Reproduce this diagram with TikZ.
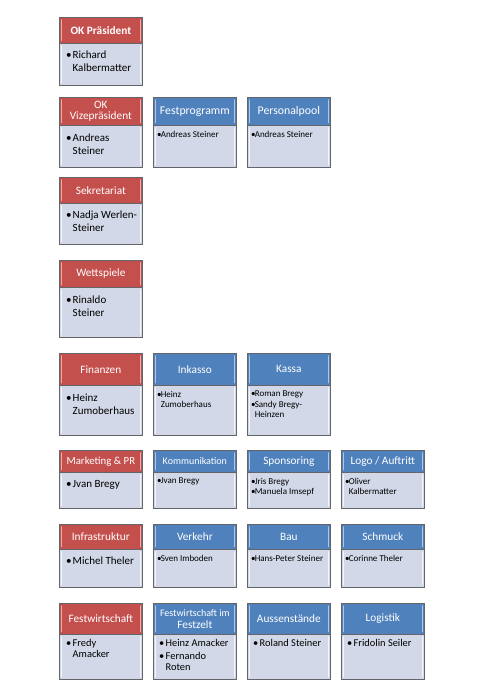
\documentclass[tikz,border=0pt]{standalone}
\usepackage{fontspec}
\setmainfont{Carlito}
\definecolor{hred}{RGB}{196,80,77}
\definecolor{hblue}{RGB}{79,129,189}
\definecolor{bfill}{RGB}{210,216,231}
\definecolor{edgegray}{RGB}{100,100,105}
\newcommand\bulA{\makebox[6.5pt][l]{•}}
\newcommand\indA{\hspace*{6.5pt}}
\newcommand\bulB{\makebox[3.6pt][l]{•}}
\newcommand\indB{\hspace*{3.6pt}}
\tikzset{
  headbox/.style={draw=edgegray, line width=0.7pt, minimum width=83pt, inner sep=0pt,
    text=white, align=center, anchor=north west, font=\fontsize{11.3}{11.5}\selectfont},
  bodybox/.style={draw=edgegray, line width=0.7pt, fill=bfill, minimum width=83pt,
    inner sep=0pt, anchor=north west},
  txtA/.style={anchor=north west, inner sep=0pt, align=left, font=\fontsize{11}{12.5}\selectfont},
  txtC/.style={anchor=north west, inner sep=0pt, align=left, font=\fontsize{10.4}{11.5}\selectfont},
  txtB/.style={anchor=north west, inner sep=0pt, align=left, font=\fontsize{9}{10.5}\selectfont},
  bevel/.style={line width=1.2pt, line cap=round},
}
\newcommand\orgbox[7]{%
  \node[headbox, fill=#6, minimum height={#4-#3}] (#1h) at (#2,-#3) {#7};
  \node[bodybox, minimum height={#5-#4}] (#1b) at (#2,-#4) {};
  \draw[bevel, #6!45!white] ([xshift=2.5pt,yshift=-3pt]#1h.north west) -- ([xshift=2.5pt,yshift=3pt]#1h.south west);
  \draw[bevel, #6!45!white] ([xshift=-2.5pt,yshift=-3pt]#1h.north east) -- ([xshift=-2.5pt,yshift=3pt]#1h.south east);
  \draw[bevel, white, opacity=.75] ([xshift=2.5pt,yshift=-3pt]#1b.north west) -- ([xshift=2.5pt,yshift=3pt]#1b.south west);
  \draw[bevel, white, opacity=.75] ([xshift=-2.5pt,yshift=-3pt]#1b.north east) -- ([xshift=-2.5pt,yshift=3pt]#1b.south east);
}
\begin{document}
\begin{tikzpicture}[x=1pt,y=1pt]
\useasboundingbox[fill=white] (0,0) rectangle (490,-693);

% Row 1
\orgbox{p1}{59}{17}{43}{85}{hred}{\textbf{OK Präsident}}
\node[txtA] (p1t) at ([xshift=7pt,yshift=-8pt]p1b.north west) {\bulA Richard\\\indA Kalbermatter};

% Row 2
\orgbox{v1}{59}{97}{125}{167}{hred}{OK\\Vizepräsident}
\node[txtA] (v1t) at ([xshift=7pt,yshift=-9pt]v1b.north west) {\bulA Andreas\\\indA Steiner};
\orgbox{fp}{153}{97}{125}{167}{hblue}{\fontsize{11.8}{12}\selectfont Festprogramm}
\node[txtB] (fpt) at ([xshift=4pt,yshift=-6pt]fpb.north west) {\bulB Andreas Steiner};
\orgbox{pp}{247}{97}{125}{167}{hblue}{\fontsize{11.8}{12}\selectfont Personalpool}
\node[txtB] (ppt) at ([xshift=4pt,yshift=-6pt]ppb.north west) {\bulB Andreas Steiner};

% Row 3
\orgbox{sk}{59}{177}{203}{244}{hred}{Sekretariat}
\node[txtA] (skt) at ([xshift=7pt,yshift=-8pt]skb.north west) {\bulA Nadja Werlen-\\\indA Steiner};

% Row 4
\orgbox{ws}{59}{260}{287}{337}{hred}{Wettspiele}
\node[txtA] (wst) at ([xshift=7pt,yshift=-9pt]wsb.north west) {\bulA Rinaldo\\\indA Steiner};

% Row 5
\orgbox{fi}{59}{353}{385}{435}{hred}{Finanzen}
\node[txtA] (fit) at ([xshift=7pt,yshift=-9pt]fib.north west) {\bulA Heinz\\\indA Zumoberhaus};
\orgbox{ik}{153}{353}{385}{435}{hblue}{Inkasso}
\node[txtB] (ikt) at ([xshift=4pt,yshift=-6pt]ikb.north west) {\bulB Heinz\\\indB Zumoberhaus};
\orgbox{ka}{247}{353}{385}{435}{hblue}{Kassa}
\node[txtB] (kat) at ([xshift=4pt,yshift=-6pt]kab.north west) {\bulB Roman Bregy\\\bulB Sandy Bregy-\\\indB Heinzen};

% Row 6
\orgbox{mk}{59}{450}{472}{508}{hred}{\fontsize{10.8}{11}\selectfont Marketing \& PR}
\node[txtA] (mkt) at ([xshift=7pt,yshift=-8pt]mkb.north west) {\bulA Jvan Bregy};
\orgbox{ko}{153}{450}{472}{508}{hblue}{\fontsize{10}{11}\selectfont Kommunikation}
\node[txtB] (kot) at ([xshift=4pt,yshift=-6pt]kob.north west) {\bulB Jvan Bregy};
\orgbox{sp}{247}{450}{472}{508}{hblue}{Sponsoring}
\node[txtB] (spt) at ([xshift=4pt,yshift=-6pt]spb.north west) {\bulB Jris Bregy\\\bulB Manuela Imsepf};
\orgbox{lo}{341}{450}{472}{508}{hblue}{Logo / Auftritt}
\node[txtB] (lot) at ([xshift=4pt,yshift=-6pt]lob.north west) {\bulB Oliver\\\indB Kalbermatter};

% Row 7
\orgbox{in}{59}{524}{549}{587}{hred}{Infrastruktur}
\node[txtA] (int) at ([xshift=7pt,yshift=-8pt]inb.north west) {\bulA Michel Theler};
\orgbox{ve}{153}{524}{549}{587}{hblue}{Verkehr}
\node[txtB] (vet) at ([xshift=4pt,yshift=-6pt]veb.north west) {\bulB Sven Imboden};
\orgbox{ba}{247}{524}{549}{587}{hblue}{Bau}
\node[txtB] (bat) at ([xshift=4pt,yshift=-6pt]bab.north west) {\bulB Hans-Peter Steiner};
\orgbox{sc}{341}{524}{549}{587}{hblue}{Schmuck}
\node[txtB] (sct) at ([xshift=4pt,yshift=-6pt]scb.north west) {\bulB Corinne Theler};

% Row 8
\orgbox{fw}{59}{603}{634}{679}{hred}{Festwirtschaft}
\node[txtC] (fwt) at ([xshift=7pt,yshift=-5pt]fwb.north west) {\bulA Fredy\\\indA Amacker};
\orgbox{fz}{153}{603}{634}{679}{hblue}{\fontsize{10}{11}\selectfont Festwirtschaft im\\Festzelt}
\node[txtC] (fzt) at ([xshift=6pt,yshift=-5pt]fzb.north west) {\bulA Heinz Amacker\\[1.5pt]\bulA Fernando\\\indA Roten};
\orgbox{au}{247}{603}{634}{679}{hblue}{Aussenstände}
\node[txtC] (aut) at ([xshift=6pt,yshift=-5pt]aub.north west) {\bulA Roland Steiner};
\orgbox{lg}{341}{603}{634}{679}{hblue}{Logistik}
\node[txtC] (lgt) at ([xshift=6pt,yshift=-5pt]lgb.north west) {\bulA Fridolin Seiler};
\end{tikzpicture}
\end{document}
